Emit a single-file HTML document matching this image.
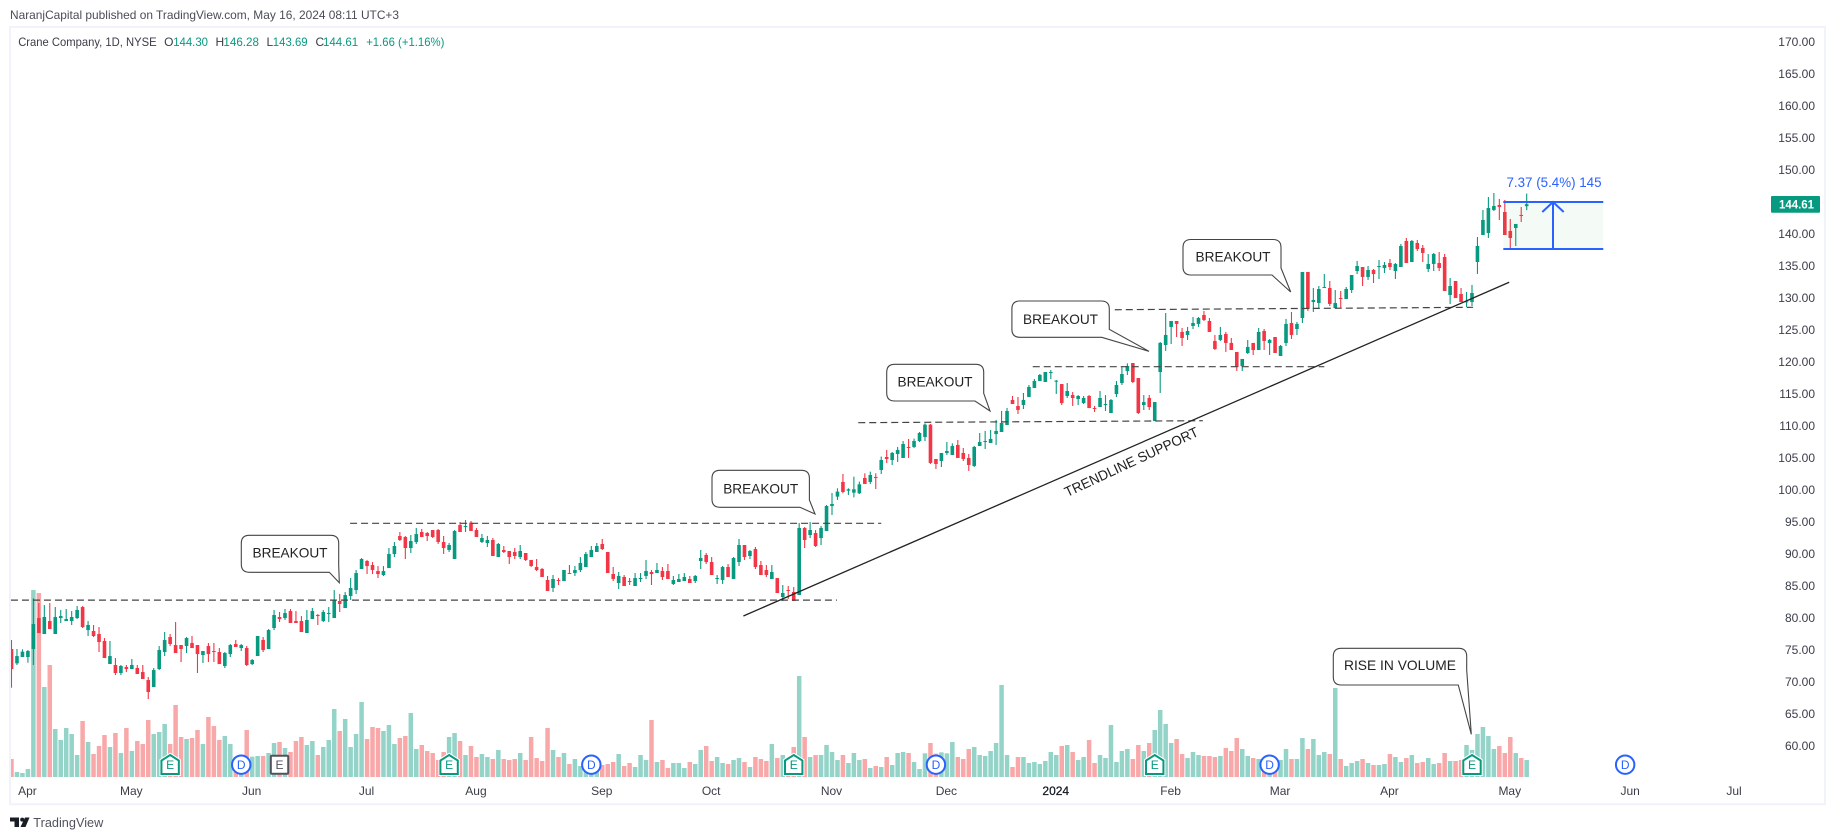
<!DOCTYPE html>
<html lang="en">
<head>
<meta charset="utf-8">
<title>Crane Company, 1D, NYSE</title>
<style>
html,body{margin:0;padding:0;background:#fff;width:1835px;height:840px;overflow:hidden}
svg{display:block;font-family:"Liberation Sans",sans-serif}
</style>
</head>
<body>
<svg id="chart" xmlns="http://www.w3.org/2000/svg" width="1835" height="840" viewBox="0 0 1835 840">
  <defs>
    <clipPath id="plot-clip"><rect x="11" y="28" width="1813" height="775"/></clipPath>
  </defs>
  <rect x="0" y="0" width="1835" height="840" fill="#ffffff"/>
  <text x="10" y="19" font-size="12" fill="#4a4d57" textLength="389" lengthAdjust="spacingAndGlyphs">NaranjCapital published on TradingView.com, May 16, 2024 08:11 UTC+3</text>
  <rect x="10" y="27" width="1815" height="777.3" fill="none" stroke="#f0f3fa" stroke-width="2"/>

  <g font-size="12">
    <text x="18.2" y="46" fill="#3a3d47" textLength="138.4" lengthAdjust="spacingAndGlyphs">Crane Company, 1D, NYSE</text>
    <text x="164.1" y="46" fill="#3a3d47">O</text>
    <text x="173.2" y="46" fill="#089981" textLength="34.8" lengthAdjust="spacingAndGlyphs">144.30</text>
    <text x="215.5" y="46" fill="#3a3d47">H</text>
    <text x="223.4" y="46" fill="#089981" textLength="35.6" lengthAdjust="spacingAndGlyphs">146.28</text>
    <text x="266.5" y="46" fill="#3a3d47">L</text>
    <text x="272.8" y="46" fill="#089981" textLength="34.8" lengthAdjust="spacingAndGlyphs">143.69</text>
    <text x="315.5" y="46" fill="#3a3d47">C</text>
    <text x="323" y="46" fill="#089981" textLength="35.2" lengthAdjust="spacingAndGlyphs">144.61</text>
    <text x="366.2" y="46" fill="#089981" textLength="78.2" lengthAdjust="spacingAndGlyphs">+1.66 (+1.16%)</text>
  </g>

  <g id="volume-layer" clip-path="url(#plot-clip)"></g>
  <g id="candle-layer" clip-path="url(#plot-clip)"></g>
  <g id="event-layer"></g>
  <g id="drawing-layer" clip-path="url(#plot-clip)"></g>

  <g>
    <rect x="1503.3" y="202" width="100" height="47" fill="#4caf50" fill-opacity="0.06"/>
    <line x1="1503.3" y1="202" x2="1603.3" y2="202" stroke="#2962ff" stroke-width="2"/>
    <line x1="1503.3" y1="249" x2="1603.3" y2="249" stroke="#2962ff" stroke-width="2"/>
    <line x1="1553" y1="202" x2="1553" y2="249" stroke="#2962ff" stroke-width="2"/>
    <polyline points="1542.3,212 1553,202 1563.7,212" fill="none" stroke="#2962ff" stroke-width="2"/>
    <text x="1554" y="187" font-size="14" fill="#2962ff" text-anchor="middle" textLength="95" lengthAdjust="spacingAndGlyphs">7.37 (5.4%) 145</text>
  </g>

  <g font-size="14" fill="#222">
    <g>
      <path d="M249.3,535.3H330.7Q338.7,535.3 338.7,543.3V565L339.3,582.7L329.3,572.3H249.3Q241.3,572.3 241.3,564.3V543.3Q241.3,535.3 249.3,535.3Z" fill="#fff" stroke="#444" stroke-width="1.1"/>
      <text x="290" y="557.5" text-anchor="middle" textLength="75" lengthAdjust="spacingAndGlyphs">BREAKOUT</text>
    </g>
    <g>
      <path d="M720,470.3H801.4Q809.4,470.3 809.4,478.3V500L815,514L800,507.3H720Q712,507.3 712,499.3V478.3Q712,470.3 720,470.3Z" fill="#fff" stroke="#444" stroke-width="1.1"/>
      <text x="760.7" y="493.5" text-anchor="middle" textLength="75" lengthAdjust="spacingAndGlyphs">BREAKOUT</text>
    </g>
    <g>
      <path d="M894.7,364.3H975.7Q983.7,364.3 983.7,372.3V393.3L990,411L975,401H894.7Q886.7,401 886.7,393V372.3Q886.7,364.3 894.7,364.3Z" fill="#fff" stroke="#444" stroke-width="1.1"/>
      <text x="935" y="386.5" text-anchor="middle" textLength="75" lengthAdjust="spacingAndGlyphs">BREAKOUT</text>
    </g>
    <g>
      <path d="M1019.9,301H1101.3Q1109.3,301 1109.3,309V329.3L1149,351.3L1101.7,337.3H1019.9Q1011.9,337.3 1011.9,329.3V309Q1011.9,301 1019.9,301Z" fill="#fff" stroke="#444" stroke-width="1.1"/>
      <text x="1060.5" y="324" text-anchor="middle" textLength="75" lengthAdjust="spacingAndGlyphs">BREAKOUT</text>
    </g>
    <g>
      <path d="M1191,239.5H1273Q1281,239.5 1281,247.5V268L1290.7,292L1272,275H1191Q1183,275 1183,267V247.5Q1183,239.5 1191,239.5Z" fill="#fff" stroke="#444" stroke-width="1.1"/>
      <text x="1233" y="261.5" text-anchor="middle" textLength="75" lengthAdjust="spacingAndGlyphs">BREAKOUT</text>
    </g>
    <g>
      <path d="M1341.3,648.3H1458.7Q1466.7,648.3 1466.7,656.3V670L1471.3,734.3L1458.3,685H1341.3Q1333.3,685 1333.3,677V656.3Q1333.3,648.3 1341.3,648.3Z" fill="#fff" stroke="#444" stroke-width="1.1"/>
      <text x="1400" y="670" text-anchor="middle" textLength="112" lengthAdjust="spacingAndGlyphs">RISE IN VOLUME</text>
    </g>
    <text transform="translate(1131.3 461.7) rotate(-25)" x="0" y="5" text-anchor="middle" textLength="146" lengthAdjust="spacingAndGlyphs">TRENDLINE SUPPORT</text>
  </g>

  <g id="price-axis" font-size="12" fill="#3a3d47"></g>
  <g id="time-axis" font-size="12" fill="#3a3d47"></g>

  <g>
    <rect x="1771" y="196" width="49" height="16.7" rx="1" fill="#089981"/>
    <text id="last-price-text" x="1796.5" y="208.6" font-size="12" font-weight="700" fill="#fff" text-anchor="middle" textLength="35" lengthAdjust="spacingAndGlyphs">144.61</text>
  </g>

  <g>
    <path d="M10,817.5H19V827H14.5V821.5H10ZM25,817.5H29.5L25.5,827H20.5Z" fill="#1a1d26"/>
    <circle cx="22.2" cy="819.6" r="2" fill="#1a1d26"/>
    <text x="33.3" y="827" font-size="13" fill="#50535e" textLength="70" lengthAdjust="spacingAndGlyphs">TradingView</text>
  </g>
</svg>
<script>
const opens = [
75.11,72.87,73.86,73.86,75.11,79.95,77.45,79.48,77.45,79.95,
79.48,79.48,79.95,81.67,78.07,77.92,77.45,76.36,72.76,72.61,
71.36,72.29,71.98,72.14,71.51,70.26,69.17,71.98,74.64,76.98,
75.73,75.73,75.57,76.04,75.73,74.17,75.57,74.79,74.64,72.45,
74.32,75.89,75.26,75.26,72.76,74.01,76.51,75.11,78.39,80.11,
79.95,81.04,79.48,79.48,77.61,79.79,80.42,79.48,80.58,79.95,
82.61,81.51,83.39,84.32,87.61,88.86,88.23,87.29,86.67,87.76,
89.95,92.76,92.61,90.89,91.82,93.39,93.23,93.7,93.7,91.83,
90.58,89.17,94.48,94.22,94.85,93.7,91.83,91.67,92.14,89.48,
90.58,90.42,90.27,89.48,90.11,89.02,87.92,87.61,85.89,84.64,
85.89,85.73,86.98,86.98,87.45,87.92,89.48,90.27,91.52,90.27,
86.83,85.42,86.36,85.73,84.95,86.05,86.52,87.14,86.98,87.3,
87.3,85.27,85.58,85.73,86.05,85.73,88.86,89.8,88.7,86.05,
85.89,87.92,86.05,88.7,91.36,89.64,90.73,88.23,87.45,86.05,
86.2,83.23,84.33,84.02,83.55,94.02,92.92,93.23,92.45,93.55,
97.45,98.92,101.21,99.85,99.54,99.44,101.83,101.21,101.99,103.08,
105.11,104.64,105.58,104.96,106.68,106.68,107.61,108.24,110.17,104.8,
104.49,105.74,105.43,106.99,105.74,104.96,103.71,106.83,107.46,107.3,
108.71,109.02,110.11,114.02,113.08,113.24,114.49,115.9,116.99,116.83,
118.24,116.88,116.51,114.64,114.79,114.17,113.54,114.64,112.76,112.92,
113.23,111.98,114.95,116.67,118.54,119.79,117.45,113.23,114.33,110.73,
118.39,122.61,125.43,126.36,124.65,124.18,125.58,125.9,127.3,126.36,
123.24,123.4,124.33,122.93,121.52,119.33,121.36,122.93,121.83,124.8,
122.93,123.86,120.89,122.93,126.05,125.11,126.83,134.02,129.33,129.17,
131.52,131.52,128.39,129.95,129.8,131.2,134.17,134.8,133.24,134.33,
134.8,134.64,135.42,134.17,134.8,138.86,135.58,138.55,137.77,134.49,
135.27,135.42,136.36,130.42,132.61,130.58,129.28,129.33,135.58,139.8,
140.11,143.71,144.49,143.39,140.43,140.89,142.93,144.3];
const closes = [
71.98,74.01,74.69,74.79,79.01,77.61,80.11,78.23,80.11,80.26,
79.79,80.11,81.2,78.54,78.86,77.14,76.2,73.7,74.01,71.36,
72.45,71.98,72.61,71.2,70.42,68.39,71.82,74.95,76.51,75.89,
74.48,75.11,76.82,75.26,74.32,74.79,74.32,74.64,72.76,74.48,
75.73,75.42,75.73,72.61,73.39,77.14,74.95,78.07,80.42,79.79,
80.73,79.17,79.17,77.76,79.64,81.04,80.26,80.89,80.73,82.76,
82.14,83.54,84.64,86.98,89.17,88.07,87.45,86.82,87.29,89.95,
91.2,92.14,90.89,91.98,93.07,92.61,92.76,92.61,91.83,90.89,
91.36,93.55,93.39,94.33,93.55,92.61,92.45,92.14,89.64,91.52,
90.27,89.48,89.64,90.42,89.02,88.08,87.45,86.36,84.17,86.05,
85.73,87.45,86.83,87.45,88.55,89.95,90.58,91.2,90.73,86.98,
86.05,86.52,84.95,85.58,86.2,86.2,87.3,86.83,87.45,86.36,
86.05,85.89,86.05,86.36,85.42,86.52,89.33,88.7,86.67,86.2,
87.92,86.36,89.33,91.36,89.48,90.42,87.92,86.67,86.67,87.14,
83.86,83.86,84.22,82.61,94.02,92.14,93.7,91.2,94.02,97.45,
97.77,99.7,99.64,100.06,100.06,100.84,100.9,102.3,101.83,104.64,
104.8,105.74,106.21,107.14,106.52,107.61,108.86,110.17,104.18,104.02,
105.74,106.05,106.83,104.96,104.8,103.86,106.68,107.46,107.61,107.93,
109.18,110.43,112.3,113.39,112.46,114.02,116.05,116.99,117.93,118.39,
118.39,117.04,113.54,115.42,114.33,114.64,114.33,112.76,112.61,114.33,
113.39,114.01,116.36,118.08,119.33,116.83,111.98,113.7,112.92,113.7,
122.93,124.18,126.36,125.9,123.71,124.8,126.05,126.83,126.52,124.65,
121.99,124.18,122.93,121.83,119.18,120.43,122.3,121.83,124.65,123.24,
123.4,121.36,122.46,125.9,124.18,125.9,134.02,128.24,129.64,131.36,
131.67,129.02,129.17,129.8,131.36,133.55,134.95,133.24,134.33,133.7,
134.95,135.11,134.8,135.27,138.08,135.42,138.86,137.61,136.99,135.27,
136.83,134.64,131.05,131.83,129.95,129.33,129.43,130.74,138.08,142.14,
144.02,144.33,144.18,139.8,139.33,141.52,142.77,144.61];
const highs = [
76.51,75.11,75.05,74.95,83.02,82.29,81.98,82.29,81.67,81.2,
81.36,81.04,81.82,81.82,79.48,78.86,78.54,76.82,76.36,73.7,
72.61,72.61,73.54,72.61,72.61,70.73,72.14,75.57,77.76,77.45,
79.32,75.73,76.98,77.14,75.73,74.79,76.04,76.04,75.26,74.64,
75.89,76.51,75.89,75.57,73.54,77.14,76.98,78.23,81.2,80.89,
81.36,81.36,81.04,80.26,81.2,81.51,80.58,81.2,81.67,84.32,
83.7,84.01,86.2,87.45,89.32,89.01,88.7,88.07,88.07,90.89,
91.82,93.39,92.76,92.92,94.01,93.86,93.39,93.7,93.86,92.77,
91.67,93.7,94.95,95.26,95.11,94.01,93.08,92.77,92.45,91.67,
91.2,90.42,90.89,91.36,90.11,89.02,89.17,87.77,86.52,86.67,
86.2,87.45,88.23,88.08,89.48,90.27,91.2,91.67,92.3,90.27,
87.92,87.14,86.67,86.2,86.98,86.98,89.02,87.45,88.55,87.92,
88.39,86.52,86.83,86.98,86.52,86.67,90.58,90.11,89.48,86.67,
88.08,88.39,89.48,92.3,91.36,90.58,91.05,88.86,88.23,88.23,
86.2,85.11,84.95,84.8,94.8,94.17,94.95,93.7,94.33,97.61,
99.48,100.22,102.46,100.22,102.04,101.26,102.56,102.82,102.56,105.17,
106.21,105.9,106.68,107.61,107.93,107.98,109.02,110.37,110.27,104.8,
105.74,107.46,107.25,107.77,106.52,105.58,106.83,108.86,109.18,109.33,
110.9,112.3,112.77,114.64,114.49,115.11,116.36,117.3,118.08,118.39,
118.71,117.14,116.51,116.67,115.26,114.79,114.64,114.79,113.08,115.42,
114.79,114.17,116.98,119.17,119.74,119.79,117.45,114.79,114.79,113.7,
123.08,127.61,126.36,126.36,125.27,125.43,126.99,126.99,127.93,126.83,
124.18,125.43,124.65,123.71,121.52,120.43,123.4,122.93,125.27,125.11,
123.55,123.86,122.61,126.68,127.77,126.21,134.02,134.02,131.52,131.83,
133.7,132.61,131.2,131.05,131.67,133.55,135.74,134.8,134.95,134.49,
135.89,135.58,136.05,135.42,138.39,139.33,139.02,139.02,138.24,136.83,
136.99,137.14,136.83,133.08,132.61,131.52,130.89,131.99,139.49,143.71,
145.74,146.36,145.43,145.27,142.3,141.52,144.18,146.28];
const lows = [
69.06,72.61,73.86,72.97,72.61,77.61,77.45,78.23,77.45,79.17,
79.48,78.86,79.79,78.39,77.14,76.98,74.64,73.7,72.76,71.04,
71.04,71.51,71.98,71.2,70.42,67.29,69.17,71.82,74.01,75.57,
74.48,73.07,74.48,75.26,71.36,72.92,73.07,73.07,72.76,72.14,
73.86,75.42,74.79,72.45,72.61,74.01,74.64,75.11,78.07,79.32,
79.64,79.17,79.17,77.76,77.61,79.79,78.86,79.32,79.32,79.95,
80.89,81.51,82.76,83.7,87.61,86.82,86.82,86.2,86.51,87.76,
89.48,91.98,89.17,90.11,91.51,92.61,91.98,92.45,91.52,89.96,
90.27,89.17,93.39,93.39,93.55,92.61,91.67,91.05,89.64,89.48,
90.11,88.39,89.17,89.17,88.86,87.92,87.3,86.36,84.17,84.02,
85.11,85.73,86.83,86.52,87.14,87.92,89.48,90.27,90.58,86.98,
85.73,84.48,84.95,85.11,84.95,85.58,86.05,85.11,86.98,85.89,
86.05,85.11,85.58,85.73,85.42,85.42,87.61,88.39,86.67,85.27,
85.27,86.36,86.05,88.08,89.02,89.17,87.61,86.67,86.36,86.05,
83.86,82.61,82.92,82.61,83.55,90.89,92.45,91.05,91.36,93.55,
96.05,98.4,99.44,99.18,98.8,99.33,100.9,100.9,100.11,102.46,
104.17,103.86,104.33,104.96,104.96,106.52,107.46,107.61,104.02,103.24,
103.55,105.43,105.43,104.96,104.49,102.93,103.55,106.83,106.36,107.3,
106.99,109.02,110.11,113.39,111.83,112.61,114.49,115.9,116.99,116.83,
117.3,114.96,113.23,114.33,113.08,113.23,113.39,112.76,112.14,112.92,
112.3,111.98,114.48,116.36,117.92,116.67,111.83,112.45,112.45,110.73,
115.11,121.68,122.77,123.86,122.46,123.4,125.11,125.43,126.36,124.65,
121.83,123.24,121.52,121.83,118.55,118.55,121.21,121.05,121.83,121.83,
121.05,121.36,120.89,122.46,123.55,124.18,126.05,127.92,127.77,128.24,
131.52,128.7,128.39,128.39,129.8,130.74,133.7,131.83,132.77,132.3,
132.92,133.86,134.33,132.92,134.8,135.42,135.58,137.3,135.58,134.02,
134.17,134.17,131.05,129.02,129.95,129.33,128.55,128.7,133.71,139.8,
139.33,143.55,142.14,139.8,137.61,138.08,141.83,143.69];
const volumes = [
54,15,12,24,561,552,270,336,144,111,
147,129,66,168,105,69,93,126,90,132,
72,147,78,108,99,171,129,135,159,99,
216,120,114,117,141,99,180,153,111,123,
99,60,40,141,61,63,63,72,102,105,
87,75,108,120,96,108,66,90,111,204,
138,174,90,129,225,114,150,147,138,156,
99,117,123,192,84,96,78,72,51,75,
120,132,108,66,93,60,69,60,54,81,
54,51,54,72,51,120,57,48,147,81,
60,72,39,54,33,16,12,18,36,39,
45,69,33,42,30,66,51,171,45,51,
27,42,42,27,45,39,81,93,48,60,
42,39,51,57,45,30,60,54,48,99,
57,66,60,90,303,120,60,66,66,96,
75,51,66,42,72,51,54,27,33,30,
60,36,72,75,72,45,24,71,102,70,
74,71,105,60,54,84,90,66,63,78,
102,276,66,30,60,60,42,45,39,48,
75,66,93,96,75,51,60,111,42,66,
57,156,45,78,84,54,96,78,102,141,
201,159,102,114,69,57,75,66,63,63,
60,63,87,78,117,84,63,57,54,40,
35,36,51,84,54,54,117,84,114,66,
75,69,267,54,33,42,48,54,42,36,
36,39,69,60,45,57,66,42,45,57,
39,42,72,48,48,51,96,81,129,150,
123,84,93,72,120,72,57,51];

const priceTicks = [60,65,70,75,80,85,90,95,100,105,110,115,120,125,130,135,140,145,150,155,160,165,170];
const timeLabels = ['Apr','May','Jun','Jul','Aug','Sep','Oct','Nov','Dec','2024','Feb','Mar','Apr','May','Jun','Jul'];
const timeBars = [3,22,44,65,85,108,128,150,171,191,212,232,252,274,296,315];
const earningsBars = [29,80,143,209,267];
const dividendBars = [42,106,169,230,295];
const futureEarningsBars = [49];
const levelStartBars = [-0.1,61.9,154.8,186.7,201.7];
const levelEndBars = [150.9,159,217.8,240,267.2];
const levelStartPrices = [82.75,94.75,110.47,119.22,128.12];
const levelEndPrices = [82.75,94.75,110.78,119.22,128.5];
const trendBars = [133.8,273.8];
const trendPrices = [80.27,132.41];

const NS = 'http://www.w3.org/2000/svg';
function xScale(i){ return 11.5 + 5.47 * i; }
function yScale(p){ return 297.7 + (130 - p) * 6.4; }
function volY(v){ return 777 - v / 3; }
function make(tag, parent, attrs){
  const el = document.createElementNS(NS, tag);
  for (const k in attrs) el.setAttribute(k, attrs[k]);
  parent.appendChild(el);
  return el;
}
const GREEN = '#089981', RED = '#f23645', VGREEN = '#93d3c8', VRED = '#f8a8a8';

const volLayer = document.getElementById('volume-layer');
volumes.forEach(function(v, i){
  const up = closes[i] >= opens[i];
  const bar = make('rect', volLayer, {x: xScale(i) - 2.25, y: volY(v), width: 4.5, height: 777 - volY(v), fill: up ? VGREEN : VRED});
  
  
});

const candleLayer = document.getElementById('candle-layer');
opens.forEach(function(o, i){
  const c = closes[i];
  const col = c >= o ? GREEN : RED;
  const g = make('g', candleLayer, {});
  
  
  const wick = make('line', g, {x1: xScale(i), x2: xScale(i), y1: yScale(highs[i]), y2: yScale(lows[i]), stroke: col, 'stroke-width': 1.1});
  
  
  const top = Math.min(yScale(o), yScale(c));
  const h = Math.max(Math.abs(yScale(o) - yScale(c)), 1);
  const body = make('rect', g, {x: xScale(i) - 1.8, y: top, width: 3.6, height: h, fill: col});
  
  
});

const drawLayer = document.getElementById('drawing-layer');
levelStartBars.forEach(function(b, i){
  const line = make('line', drawLayer, {x1: xScale(b), y1: yScale(levelStartPrices[i]), x2: xScale(levelEndBars[i]), y2: yScale(levelEndPrices[i]), stroke: '#444', 'stroke-width': 1.2, 'stroke-dasharray': '7 4'});
  
  
});
const trend = make('line', drawLayer, {x1: xScale(trendBars[0]), y1: yScale(trendPrices[0]), x2: xScale(trendBars[1]), y2: yScale(trendPrices[1]), stroke: '#222', 'stroke-width': 1.3});



const eventLayer = document.getElementById('event-layer');
function markerLabel(cx, letter, color){
  const t = make('text', eventLayer, {x: cx, y: 769.2, 'font-size': 12, 'text-anchor': 'middle', fill: color});
  t.textContent = letter;
  return t;
}
earningsBars.forEach(function(b){
  const cx = xScale(b);
  const d = 'M' + cx + ',755L' + (cx + 8.7) + ',760.5V774H' + (cx - 8.7) + 'V760.5Z';
  const halo = make('path', eventLayer, {d: d, fill: '#fff', stroke: '#fff', 'stroke-width': 4});
  
  
  const shape = make('path', eventLayer, {d: d, fill: '#fff', stroke: GREEN, 'stroke-width': 2});
  
  
  const t = markerLabel(cx, 'E', GREEN);
  
  
});
dividendBars.forEach(function(b){
  const cx = xScale(b);
  const shape = make('circle', eventLayer, {cx: cx, cy: 764.7, r: 9.2, fill: '#fff', stroke: '#2962ff', 'stroke-width': 2});
  
  
  const t = markerLabel(cx, 'D', '#2962ff');
  
  
});
futureEarningsBars.forEach(function(b){
  const cx = xScale(b);
  const shape = make('rect', eventLayer, {x: cx - 8.7, y: 755.7, width: 17.4, height: 18, fill: '#fff', stroke: '#50535e', 'stroke-width': 2, rx: 1});
  
  
  const t = markerLabel(cx, 'E', '#50535e');
  
  
});

const priceAxis = document.getElementById('price-axis');
priceTicks.forEach(function(p){
  const t = make('text', priceAxis, {x: 1815, y: yScale(p) + 4.2, 'text-anchor': 'end'});
  t.textContent = p.toFixed(2);
  
  
});

const timeAxis = document.getElementById('time-axis');
timeLabels.forEach(function(label, i){
  const isYear = label === '2024';
  const t = make('text', timeAxis, {x: xScale(timeBars[i]) - 0.5, y: 795, 'text-anchor': 'middle', fill: isYear ? '#131722' : '#3a3d47', stroke: isYear ? '#131722' : 'none', 'stroke-width': isYear ? 0.25 : 0});
  t.textContent = label;
  
  
});

document.getElementById('last-price-text').textContent = closes[closes.length - 1].toFixed(2);
</script>
</body>
</html>
